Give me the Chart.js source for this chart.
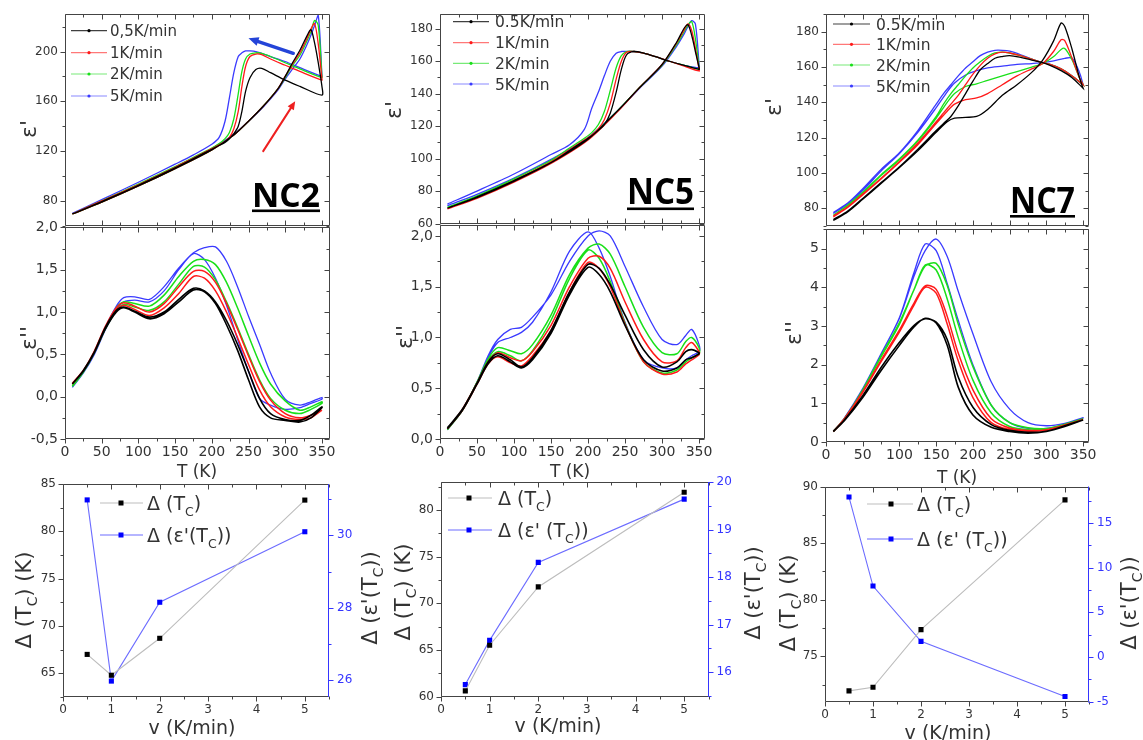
<!DOCTYPE html>
<html><head><meta charset="utf-8">
<script src="https://cdn.jsdelivr.net/npm/chart.js@4.4.0/dist/chart.umd.min.js"></script>
<style>
html,body{margin:0;padding:0;background:#fff;width:1143px;height:740px;overflow:hidden;position:relative;}
canvas{position:absolute;}
</style></head><body>
<canvas id="p1"></canvas><canvas id="p2"></canvas><canvas id="p3"></canvas>
<canvas id="p4"></canvas><canvas id="p5"></canvas><canvas id="p6"></canvas>
<canvas id="p7"></canvas><canvas id="p8"></canvas><canvas id="p9"></canvas>
<script>
// ================= DATA =================
const legendNC2 = ['0,5K/min', '1K/min', '2K/min', '5K/min'];
const legendNC57 = ['0.5K/min', '1K/min', '2K/min', '5K/min'];
const sampleNames = ['NC2', 'NC5', 'NC7'];

// --- NC2 eps' (heating branch, then cooling branch) ---
const nc2EpHeatT = [10, 50, 100, 150, 200, 230, 250, 270, 290, 300, 310, 320, 330, 335, 340, 345, 350];
const nc2EpHeat05 = [69.5, 79, 92, 106, 121, 133, 144, 156, 170, 180, 191, 201, 213, 217.5, 207, 191, 172];
const nc2EpHeat1 = [69.5, 79, 92, 106, 121, 133, 144, 156, 170, 180, 190, 199, 211, 218, 222.5, 206, 178];
const nc2EpHeat2 = [69.5, 79, 92, 106, 121, 133, 144, 156, 170, 179, 189, 197, 209, 216, 225, 221, 180];
const nc2EpHeat5 = [70, 79.5, 93, 107, 122, 133.5, 144, 155.5, 169, 178, 186, 194, 206, 213, 221, 229, 181];
const nc2EpCoolT = [350, 320, 300, 280, 268, 260, 252, 246, 241, 236, 230, 224, 218, 210, 200, 175, 150, 100, 50, 10];
const nc2EpCool05 = [165, 172, 177, 183, 186.5, 185.5, 179, 168, 152, 140, 134, 130, 127, 124.5, 121.5, 114, 106.5, 92.5, 79.5, 69.5];
const nc2EpCool1 = [177, 184, 189, 194, 197.5, 198, 196, 188, 172, 152, 138, 131, 128, 125, 122, 114.5, 107, 93, 80, 69.5];
const nc2EpCool2 = [179, 186, 191, 196, 198.5, 199, 198, 194, 184, 166, 146, 135, 130, 126, 122.5, 115, 107.5, 93.5, 80, 69.5];
const nc2EpCool5 = [180, 187, 192, 196, 198.5, 200, 200.5, 200.5, 199, 196, 183, 163, 144, 131, 125.5, 117, 109.5, 95, 81, 70];

// --- NC2 eps'' (branch A heating, branch B cooling, both listed with rising T) ---
const nc2EppT = [10, 25, 40, 55, 70, 80, 95, 115, 135, 155, 175, 190, 205, 220, 235, 250, 265, 280, 300, 320, 335, 350];
const nc2Epp05A = [0.15, 0.3, 0.52, 0.8, 1.0, 1.05, 1.0, 0.92, 0.98, 1.12, 1.26, 1.24, 1.1, 0.85, 0.55, 0.2, -0.12, -0.25, -0.28, -0.3, -0.25, -0.13];
const nc2Epp05B = [0.15, 0.31, 0.53, 0.82, 1.02, 1.06, 1.01, 0.94, 1.0, 1.15, 1.28, 1.25, 1.12, 0.9, 0.62, 0.3, -0.02, -0.2, -0.27, -0.28, -0.22, -0.12];
const nc2Epp1A = [0.16, 0.31, 0.53, 0.81, 1.02, 1.08, 1.03, 0.96, 1.05, 1.22, 1.42, 1.4, 1.25, 1.0, 0.7, 0.38, 0.08, -0.12, -0.24, -0.27, -0.25, -0.16];
const nc2Epp1B = [0.15, 0.31, 0.54, 0.83, 1.05, 1.11, 1.07, 1.0, 1.1, 1.3, 1.48, 1.48, 1.35, 1.1, 0.8, 0.48, 0.18, -0.04, -0.2, -0.25, -0.22, -0.16];
const nc2Epp2A = [0.13, 0.3, 0.52, 0.8, 1.02, 1.09, 1.06, 1.02, 1.12, 1.33, 1.54, 1.53, 1.38, 1.12, 0.82, 0.5, 0.2, -0.02, -0.16, -0.2, -0.15, -0.08];
const nc2Epp2B = [0.12, 0.29, 0.52, 0.81, 1.05, 1.12, 1.1, 1.07, 1.2, 1.42, 1.6, 1.62, 1.56, 1.35, 1.05, 0.72, 0.4, 0.15, -0.05, -0.16, -0.12, -0.06];
const nc2Epp5A = [0.11, 0.28, 0.5, 0.79, 1.03, 1.12, 1.14, 1.12, 1.25, 1.5, 1.69, 1.62, 1.4, 1.08, 0.68, 0.3, -0.02, -0.1, -0.15, -0.13, -0.08, -0.03];
const nc2Epp5B = [0.11, 0.29, 0.52, 0.82, 1.07, 1.17, 1.18, 1.15, 1.3, 1.52, 1.7, 1.76, 1.77, 1.6, 1.3, 0.95, 0.62, 0.28, -0.03, -0.1, -0.06, -0.01];

// --- NC5 eps' ---
const nc5EpHeatT = [10, 50, 100, 150, 200, 240, 270, 300, 320, 330, 335, 340, 345, 350];
const nc5EpHeat05 = [69.5, 76, 86, 97.5, 112, 129.5, 144, 158, 172, 180.5, 182.5, 176, 166, 156];
const nc5EpHeat1 = [69, 75.5, 85.5, 97, 111.5, 129, 144, 158, 171.5, 179.5, 183, 179, 168, 155];
const nc5EpHeat2 = [70, 76.5, 86.5, 98, 112.5, 129.5, 144, 157.5, 170.5, 178.5, 182.5, 184.5, 174, 156];
const nc5EpHeat5 = [71, 78, 88, 99.5, 113, 129.5, 143.5, 157, 169.5, 177, 181.5, 185, 183, 158];
const nc5EpCoolT = [350, 330, 310, 290, 275, 262, 252, 245, 238, 230, 222, 214, 205, 195, 175, 150, 100, 50, 10];
const nc5EpCool05 = [155, 157.5, 160, 163, 165, 166, 164, 155, 141, 128, 121, 117.5, 114, 111, 105, 97.5, 86.5, 76.5, 69.5];
const nc5EpCool1 = [154, 157, 160, 163, 165, 166, 165.5, 160, 149, 134, 124, 118.5, 114.5, 111.5, 105.5, 98, 86.5, 76, 69];
const nc5EpCool2 = [155, 157.5, 160, 163, 165, 166, 166, 163.5, 156, 142, 129, 121, 116, 112.5, 106.5, 99, 87.5, 77, 70];
const nc5EpCool5 = [156, 157.5, 160, 163, 165, 166, 166, 166, 165, 160, 151, 141, 131, 118, 108.5, 102.5, 90.5, 80, 72];

// --- NC5 eps'' ---
const nc5EppT = [10, 30, 50, 65, 78, 95, 110, 125, 150, 175, 200, 215, 230, 250, 275, 300, 320, 332, 340, 350];
const nc5Epp05A = [0.1, 0.28, 0.54, 0.74, 0.82, 0.76, 0.7, 0.78, 1.04, 1.42, 1.69, 1.62, 1.45, 1.12, 0.78, 0.67, 0.7, 0.78, 0.8, 0.84];
const nc5Epp05B = [0.11, 0.29, 0.55, 0.76, 0.84, 0.78, 0.71, 0.8, 1.07, 1.45, 1.72, 1.68, 1.52, 1.22, 0.88, 0.71, 0.76, 0.86, 0.88, 0.85];
const nc5Epp1A = [0.1, 0.28, 0.54, 0.74, 0.81, 0.75, 0.72, 0.82, 1.07, 1.45, 1.74, 1.68, 1.5, 1.13, 0.76, 0.64, 0.66, 0.74, 0.78, 0.83];
const nc5Epp1B = [0.1, 0.29, 0.55, 0.76, 0.85, 0.8, 0.77, 0.86, 1.12, 1.5, 1.78, 1.8, 1.68, 1.35, 0.98, 0.76, 0.77, 0.9, 0.95, 0.86];
const nc5Epp2A = [0.09, 0.28, 0.55, 0.77, 0.86, 0.82, 0.77, 0.87, 1.17, 1.58, 1.86, 1.78, 1.55, 1.14, 0.76, 0.65, 0.68, 0.76, 0.8, 0.84];
const nc5Epp2B = [0.09, 0.28, 0.56, 0.79, 0.9, 0.87, 0.84, 0.93, 1.22, 1.62, 1.88, 1.92, 1.82, 1.5, 1.1, 0.85, 0.84, 0.96, 1.0, 0.9];
const nc5Epp5A = [0.09, 0.28, 0.56, 0.8, 0.95, 1.0, 1.05, 1.15, 1.45, 1.85, 2.04, 1.88, 1.6, 1.15, 0.78, 0.7, 0.7, 0.78, 0.82, 0.86];
const nc5Epp5B = [0.09, 0.28, 0.56, 0.82, 0.98, 1.08, 1.1, 1.2, 1.42, 1.75, 2.0, 2.05, 2.0, 1.7, 1.3, 0.98, 0.93, 1.02, 1.08, 0.93];

// --- NC7 eps' ---
const nc7EpHeatT = [10, 30, 50, 75, 100, 125, 150, 165, 175, 190, 205, 220, 240, 260, 280, 295, 310, 320, 325, 335, 345, 350];
const nc7EpHeat05 = [73, 78, 85, 94, 103, 112.5, 123, 129, 131, 131.5, 132, 136, 144, 150, 157, 164, 175, 185, 183, 170, 154, 148];
const nc7EpHeat1 = [75, 80.5, 87.5, 96.5, 106, 116, 128, 135, 139, 141.5, 142.5, 145, 150, 155, 159, 162, 169, 175.5, 175, 165, 154, 150];
const nc7EpHeat2 = [76, 81.5, 88.5, 98.5, 107.5, 118, 131, 140, 145, 149, 150.5, 152.5, 155, 157.5, 160, 162, 166, 170, 170.5, 164, 154, 150];
const nc7EpHeat5 = [77, 82.5, 90, 101, 111, 123, 137, 146, 151, 155.5, 158, 159.5, 160.5, 161.5, 162, 162.5, 163.5, 164.5, 165, 165, 157, 150];
const nc7EpCoolT = [350, 335, 320, 305, 295, 280, 265, 250, 240, 230, 220, 210, 200, 190, 180, 170, 160, 150, 125, 100, 75, 50, 30, 10];
const nc7EpCool05 = [148, 154, 158, 161, 162.5, 164, 165.5, 166.5, 166, 165, 162, 158.5, 152, 145, 138, 132, 128, 124, 113.5, 103.5, 94.5, 85.5, 78.5, 73.5];
const nc7EpCool1 = [150, 155, 159, 161.5, 162.5, 164.5, 166.5, 168, 168.5, 167.5, 165, 161, 156, 150, 144, 139, 134, 129, 117, 106.5, 97, 88, 81, 75.5];
const nc7EpCool2 = [150, 155, 159, 161.5, 162.5, 164.5, 166.5, 168, 168.5, 168, 166, 163, 159.5, 155, 150, 145, 139, 132, 118.5, 108, 99, 89, 82, 76];
const nc7EpCool5 = [150, 155, 159, 161.5, 162.5, 164.5, 167, 169, 169.5, 169.5, 168.5, 166.5, 163, 159.5, 155, 150, 145, 139, 124, 111.5, 102, 91, 83, 77.5];

// --- NC7 eps'' ---
const nc7EppT = [10, 25, 50, 75, 100, 120, 135, 150, 165, 180, 200, 225, 250, 275, 300, 325, 350];
const nc7Epp05A = [0.27, 0.55, 1.15, 1.85, 2.5, 2.98, 3.2, 3.08, 2.5, 1.42, 0.7, 0.38, 0.27, 0.23, 0.27, 0.4, 0.57];
const nc7Epp05B = [0.28, 0.57, 1.2, 1.93, 2.58, 3.02, 3.19, 3.1, 2.65, 1.68, 0.9, 0.45, 0.3, 0.25, 0.28, 0.42, 0.57];
const nc7Epp1A = [0.27, 0.58, 1.28, 2.08, 2.85, 3.55, 4.0, 3.85, 3.05, 2.1, 1.15, 0.5, 0.32, 0.28, 0.3, 0.42, 0.58];
const nc7Epp1B = [0.27, 0.6, 1.3, 2.12, 2.9, 3.6, 4.04, 3.95, 3.25, 2.3, 1.35, 0.6, 0.36, 0.3, 0.32, 0.44, 0.58];
const nc7Epp2A = [0.27, 0.6, 1.33, 2.2, 3.05, 3.95, 4.58, 4.45, 3.7, 2.7, 1.6, 0.75, 0.4, 0.32, 0.33, 0.45, 0.6];
const nc7Epp2B = [0.27, 0.6, 1.35, 2.23, 3.09, 3.95, 4.55, 4.62, 4.05, 3.05, 1.95, 0.95, 0.5, 0.37, 0.35, 0.46, 0.6];
const nc7Epp5A = [0.27, 0.62, 1.38, 2.28, 3.22, 4.4, 5.12, 4.95, 4.1, 3.15, 2.0, 0.95, 0.5, 0.35, 0.35, 0.45, 0.62];
const nc7Epp5B = [0.27, 0.62, 1.38, 2.28, 3.2, 4.3, 4.95, 5.25, 4.8, 3.9, 2.8, 1.55, 0.85, 0.5, 0.42, 0.48, 0.63];

// --- bottom row: hysteresis widths vs rate ---
const rates = [0.5, 1, 2, 5];
const nc2DeltaTc = [67.0, 64.8, 68.7, 83.3];
const nc2DeltaEps = [30.98, 25.97, 28.15, 30.1];
const nc5DeltaTc = [60.6, 65.5, 71.75, 81.9];
const nc5DeltaEps = [15.74, 16.67, 18.31, 19.64];
const nc7DeltaTc = [71.94, 72.26, 77.35, 88.82];
const nc7DeltaEps = [17.92, 7.94, 1.74, -4.44];

// --- tick values / labels ---
const tTicks = [0, 50, 100, 150, 200, 250, 300, 350];
const vTicks = [0, 1, 2, 3, 4, 5];
const nc2EpTicks = [80, 120, 160, 200];
const nc2EppTicks = [-0.5, 0, 0.5, 1, 1.5, 2];
const nc2EppLabels = ['-0,5', '0,0', '0,5', '1,0', '1,5', '2,0'];
const nc2DTcTicks = [65, 70, 75, 80, 85];
const nc2DEpsTicks = [26, 28, 30];
const nc5EpTicks = [60, 80, 100, 120, 140, 160, 180];
const nc5EppTicks = [0, 0.5, 1, 1.5, 2];
const nc5EppLabels = ['0,0', '0,5', '1,0', '1,5', '2,0'];
const nc5DTcTicks = [60, 65, 70, 75, 80];
const nc5DEpsTicks = [16, 17, 18, 19, 20];
const nc7EpTicks = [80, 100, 120, 140, 160, 180];
const nc7EppTicks = [0, 1, 2, 3, 4, 5];
const nc7DTcTicks = [75, 80, 85, 90];
const nc7DEpsTicks = [-5, 0, 5, 10, 15];

// ================= STYLE / HELPERS =================
const FONT = "'DejaVu Sans', 'Liberation Sans', sans-serif";
const COLORS = ['#000000', '#ff1a1a', '#19e019', '#3a3aff'];
const FADED = ['rgba(0,0,0,0.75)', 'rgba(255,30,30,0.6)', 'rgba(30,220,30,0.6)', 'rgba(60,60,255,0.6)'];
const TXT = '#333333';
const AXIS = '#444444';
const BLUE_AX = '#3535ff';

function loopPts(hT, hV, cT, cV) {
  const pts = [];
  hT.forEach((t, i) => pts.push({x: t, y: hV[i]}));
  cT.forEach((t, i) => pts.push({x: t, y: cV[i]}));
  return pts;
}
function eppPts(T, A, B) { return loopPts(T, A, T.slice().reverse(), B.slice().reverse()); }
function lineDs(pts, i, w) {
  return {data: pts, showLine: true, borderColor: COLORS[i], backgroundColor: COLORS[i],
          borderWidth: w, pointRadius: 0, tension: 0.3, fill: false};
}
function dDs(vals, axis, lineColor, markColor) {
  return {data: rates.map((x, i) => ({x: x, y: vals[i]})), yAxisID: axis, showLine: true,
          borderColor: lineColor, borderWidth: 1.1, pointStyle: 'rect', pointRadius: 3.6,
          pointBackgroundColor: markColor, pointBorderColor: markColor, pointBorderWidth: 0, tension: 0};
}
function minorVals(major, min, max) {
  const out = [];
  if (major.length < 2) return out;
  const st = major[1] - major[0];
  let v = major[0] - st / 2;
  while (v - st >= min) v -= st;
  for (; v <= max + 1e-9; v += st) if (v >= min - 1e-9) out.push(v);
  return out;
}
function rich(ctx, parts, x, y, size, color, opt) {
  opt = opt || {};
  ctx.save();
  ctx.translate(x, y);
  if (opt.rot) ctx.rotate(opt.rot);
  ctx.fillStyle = color; ctx.textBaseline = 'alphabetic'; ctx.textAlign = 'left';
  const sub = size * 0.66;
  let w = 0;
  parts.forEach(p => { ctx.font = (p[1] ? sub : size) + 'px ' + FONT; w += ctx.measureText(p[0]).width; });
  let cx = opt.align === 'left' ? 0 : -w / 2;
  const base = size * 0.36;
  parts.forEach(p => {
    ctx.font = (p[1] ? sub : size) + 'px ' + FONT;
    ctx.fillText(p[0], cx, base + (p[1] ? size * 0.3 : 0));
    cx += ctx.measureText(p[0]).width;
  });
  ctx.restore();
}
function frameDraw(chart, xOut, y2) {
  const ctx = chart.ctx, a = chart.chartArea, X = chart.scales.x, Y = chart.scales.y, Y2 = chart.scales.y2;
  const L = Math.round(a.left) + 0.5, R = Math.round(a.right) - 0.5, T = Math.round(a.top) + 0.5, B = Math.round(a.bottom) - 0.5;
  const px = (s, v) => Math.round(s.getPixelForValue(v)) + 0.5;
  ctx.save();
  ctx.lineWidth = 1; ctx.strokeStyle = AXIS;
  ctx.beginPath();
  ctx.moveTo(L, T); ctx.lineTo(R, T); ctx.lineTo(R, B); ctx.lineTo(L, B); ctx.closePath();
  const seg = (x1, y1, x2, y2_) => { ctx.moveTo(x1, y1); ctx.lineTo(x2, y2_); };
  const d = xOut ? 1 : -1;
  const xm = X.ticks.map(t => t.value);
  xm.forEach(v => { const p = px(X, v); seg(p, B, p, B + d * 5); seg(p, T, p, T + 5); });
  minorVals(xm, X.min, X.max).forEach(v => { const p = px(X, v); seg(p, B, p, B + d * 3); seg(p, T, p, T + 3); });
  const ym = Y.ticks.map(t => t.value);
  ym.forEach(v => { const p = px(Y, v); seg(L, p, L - 5, p); if (!Y2) seg(R, p, R - 5, p); });
  minorVals(ym, Y.min, Y.max).forEach(v => { const p = px(Y, v); seg(L, p, L - 3, p); if (!Y2) seg(R, p, R - 3, p); });
  ctx.stroke();
  if (Y2) {
    ctx.strokeStyle = BLUE_AX; ctx.beginPath();
    seg(R, a.top, R, a.bottom);
    const y2m = Y2.ticks.map(t => t.value);
    y2m.forEach(v => { const p = px(Y2, v); seg(R, p, R + 5, p); });
    minorVals(y2m, Y2.min, Y2.max).forEach(v => { const p = px(Y2, v); seg(R, p, R + 3, p); });
    ctx.stroke();
  }
  ctx.restore();
}
function build(id, box, area, o) {
  const cv = document.getElementById(id);
  cv.width = box.w; cv.height = box.h;
  cv.style.left = box.x + 'px'; cv.style.top = box.y + 'px';
  const hasY2 = !!o.y2;
  const tickFont = {family: FONT, size: o.font};
  const scales = {
    x: {type: 'linear', min: o.x.min, max: o.x.max, bounds: 'data',
        afterBuildTicks: s => { s.ticks = o.x.ticks.map(v => ({value: v})); },
        afterFit: s => { s.height = box.y + box.h - area.b; },
        grid: {display: false, drawTicks: false}, border: {display: false},
        ticks: {display: o.x.show, autoSkip: false, maxRotation: 0, padding: o.x.pad, color: TXT, font: tickFont,
                callback: (v) => String(v)}},
    y: {type: 'linear', position: 'left', min: o.y.min, max: o.y.max, bounds: 'data',
        afterBuildTicks: s => { s.ticks = o.y.ticks.map(v => ({value: v})); },
        afterFit: s => { s.width = area.l - box.x; },
        grid: {display: false, drawTicks: false}, border: {display: false},
        ticks: {autoSkip: false, padding: 7, color: TXT, font: tickFont,
                callback: (v, i) => o.y.labels ? o.y.labels[i] : String(v)}}
  };
  if (hasY2) {
    scales.y2 = {type: 'linear', position: 'right', min: o.y2.min, max: o.y2.max, bounds: 'data',
        afterBuildTicks: s => { s.ticks = o.y2.ticks.map(v => ({value: v})); },
        afterFit: s => { s.width = box.x + box.w - area.r; },
        grid: {display: false, drawTicks: false}, border: {display: false},
        ticks: {autoSkip: false, padding: 8, color: BLUE_AX, font: tickFont, callback: v => String(v)}};
  }
  return new Chart(cv, {
    type: 'scatter',
    data: {datasets: o.datasets},
    options: {
      responsive: false, animation: false, devicePixelRatio: 1, events: [],
      layout: {autoPadding: false, padding: {left: 0, bottom: 0, top: area.t - box.y, right: hasY2 ? 0 : (box.x + box.w - area.r)}},
      plugins: {legend: {display: false}, tooltip: {enabled: false}},
      scales: scales
    },
    plugins: [
      {id: 'frame_' + id, afterDatasetsDraw(ch) { frameDraw(ch, o.xOut, hasY2); }},
      {id: 'ann_' + id, afterDraw(ch) { if (o.annot) o.annot(ch.ctx, ch, box); }}
    ]
  });
}
function epsLegend(ctx, box, names, x1, x2, tx, rows, size) {
  names.forEach((n, i) => {
    const y = rows[i] - box.y;
    ctx.save();
    ctx.strokeStyle = FADED[i]; ctx.lineWidth = 1.2;
    ctx.beginPath(); ctx.moveTo(x1 - box.x, y); ctx.lineTo(x2 - box.x, y); ctx.stroke();
    ctx.fillStyle = COLORS[i];
    ctx.beginPath(); ctx.arc((x1 + x2) / 2 - box.x, y, 1.6, 0, Math.PI * 2); ctx.fill();
    ctx.restore();
    rich(ctx, [[n, 0]], tx - box.x, y, size, TXT, {align: 'left'});
  });
}
function dLegend(ctx, box, rows, x1, x2, mx, tx, size) {
  rows.forEach(r => {
    const y = r.y - box.y;
    ctx.save();
    ctx.strokeStyle = r.line; ctx.lineWidth = 1.1;
    ctx.beginPath(); ctx.moveTo(x1 - box.x, y); ctx.lineTo(x2 - box.x, y); ctx.stroke();
    ctx.fillStyle = r.mark; ctx.fillRect(mx - box.x - 2.5, y - 2.5, 5, 5);
    ctx.restore();
    rich(ctx, r.parts, tx - box.x, y, size, TXT, {align: 'left'});
  });
}
function ncLabel(ctx, box, s, x, base, w, size, ul) {
  ctx.save();
  ctx.font = 'bold ' + size + "px 'Open Sans', " + FONT;
  ctx.fillStyle = '#000'; ctx.textBaseline = 'alphabetic'; ctx.textAlign = 'left';
  ctx.fillText(s, x - box.x, base - box.y, w);
  ctx.fillRect(x - box.x, ul - box.y, w, 2.6);
  ctx.restore();
}
function arrowData(ctx, ch, t1, v1, t2, v2, color, w, head) {
  const X = ch.scales.x, Y = ch.scales.y;
  const x1 = X.getPixelForValue(t1), y1 = Y.getPixelForValue(v1), x2 = X.getPixelForValue(t2), y2 = Y.getPixelForValue(v2);
  const ang = Math.atan2(y2 - y1, x2 - x1);
  ctx.save();
  ctx.strokeStyle = color; ctx.fillStyle = color; ctx.lineWidth = w; ctx.lineCap = 'round';
  ctx.beginPath(); ctx.moveTo(x1, y1);
  ctx.lineTo(x2 - Math.cos(ang) * head * 0.8, y2 - Math.sin(ang) * head * 0.8); ctx.stroke();
  ctx.beginPath(); ctx.moveTo(x2, y2);
  ctx.lineTo(x2 - head * Math.cos(ang - 0.42), y2 - head * Math.sin(ang - 0.42));
  ctx.lineTo(x2 - head * Math.cos(ang + 0.42), y2 - head * Math.sin(ang + 0.42));
  ctx.closePath(); ctx.fill();
  ctx.restore();
}
const ROT = -Math.PI / 2;
const epsP = [["ε'", 0]];
const epsPP = [["ε''", 0]];
const tTitle = [['T (K)', 0]];
const vTitle = [['v (K/min)', 0]];
const dTcTitle = [['Δ (T', 0], ['C', 1], [') (K)', 0]];
const dEpsTitle = [["Δ (ε'(T", 0], ['C', 1], ['))', 0]];
const legTc = [['Δ (T', 0], ['C', 1], [')', 0]];
const legEpsA = [["Δ (ε'(T", 0], ['C', 1], ['))', 0]];
const legEpsB = [["Δ (ε' (T", 0], ['C', 1], ['))', 0]];

// ================= PANELS =================
// ---- column NC2 ----
build('p1', {x: 0, y: 0, w: 380, h: 240}, {l: 65, t: 14, r: 330, b: 227}, {
  font: 12, xOut: false,
  x: {min: 0, max: 361, ticks: tTicks, show: false, pad: 5},
  y: {min: 60, max: 230, ticks: nc2EpTicks},
  datasets: [
    lineDs(loopPts(nc2EpHeatT, nc2EpHeat05, nc2EpCoolT, nc2EpCool05), 0, 1.3),
    lineDs(loopPts(nc2EpHeatT, nc2EpHeat1, nc2EpCoolT, nc2EpCool1), 1, 1.3),
    lineDs(loopPts(nc2EpHeatT, nc2EpHeat2, nc2EpCoolT, nc2EpCool2), 2, 1.3),
    lineDs(loopPts(nc2EpHeatT, nc2EpHeat5, nc2EpCoolT, nc2EpCool5), 3, 1.3)
  ],
  annot: (ctx, ch, box) => {
    epsLegend(ctx, box, legendNC2, 71, 107, 110, [30.7, 52.7, 74, 96], 15);
    rich(ctx, epsP, 28 - box.x, 129 - box.y, 22, TXT, {rot: ROT});
    ncLabel(ctx, box, sampleNames[0], 252, 207, 68, 34, 209.5);
    arrowData(ctx, ch, 311, 198.6, 250, 210.6, '#2444d8', 3.4, 11);
    arrowData(ctx, ch, 270, 120, 313.6, 160, '#ee2020', 2, 9);
  }
});
build('p2', {x: 0, y: 212, w: 380, h: 268}, {l: 65, t: 227, r: 330, b: 439}, {
  font: 14, xOut: true,
  x: {min: 0, max: 361, ticks: tTicks, show: true, pad: 5},
  y: {min: -0.5, max: 2.0, ticks: nc2EppTicks, labels: nc2EppLabels},
  datasets: [
    lineDs(eppPts(nc2EppT, nc2Epp05A, nc2Epp05B), 0, 1.6),
    lineDs(eppPts(nc2EppT, nc2Epp1A, nc2Epp1B), 1, 1.5),
    lineDs(eppPts(nc2EppT, nc2Epp2A, nc2Epp2B), 2, 1.5),
    lineDs(eppPts(nc2EppT, nc2Epp5A, nc2Epp5B), 3, 1.3)
  ],
  annot: (ctx, ch, box) => {
    rich(ctx, epsPP, 28 - box.x, 338 - box.y, 22, TXT, {rot: ROT});
    rich(ctx, tTitle, 197 - box.x, 471 - box.y, 17, TXT);
  }
});
build('p3', {x: 0, y: 468, w: 385, h: 272}, {l: 63, t: 484, r: 329, b: 697}, {
  font: 12, xOut: true,
  x: {min: 0, max: 5.5, ticks: vTicks, show: true, pad: 6},
  y: {min: 62.5, max: 85, ticks: nc2DTcTicks},
  y2: {min: 25.53, max: 31.42, ticks: nc2DEpsTicks},
  datasets: [
    dDs(nc2DeltaTc, 'y', '#bdbdbd', '#000000'),
    dDs(nc2DeltaEps, 'y2', '#6c6cff', '#0000ff')
  ],
  annot: (ctx, ch, box) => {
    dLegend(ctx, box, [{y: 503, line: '#bdbdbd', mark: '#000', parts: legTc}, {y: 535, line: '#6c6cff', mark: '#0000ff', parts: legEpsA}], 100, 143, 121, 147, 19);
    rich(ctx, dTcTitle, 23 - box.x, 600 - box.y, 21, TXT, {rot: ROT});
    rich(ctx, dEpsTitle, 369 - box.x, 598 - box.y, 21, TXT, {rot: ROT});
    rich(ctx, vTitle, 192 - box.x, 727 - box.y, 19, TXT);
  }
});
// ---- column NC5 ----
build('p4', {x: 370, y: 0, w: 380, h: 240}, {l: 440, t: 10, r: 705, b: 223.5}, {
  font: 12, xOut: false,
  x: {min: 0, max: 358, ticks: tTicks, show: false, pad: 5},
  y: {min: 60, max: 189, ticks: nc5EpTicks},
  datasets: [
    lineDs(loopPts(nc5EpHeatT, nc5EpHeat05, nc5EpCoolT, nc5EpCool05), 0, 1.3),
    lineDs(loopPts(nc5EpHeatT, nc5EpHeat1, nc5EpCoolT, nc5EpCool1), 1, 1.3),
    lineDs(loopPts(nc5EpHeatT, nc5EpHeat2, nc5EpCoolT, nc5EpCool2), 2, 1.3),
    lineDs(loopPts(nc5EpHeatT, nc5EpHeat5, nc5EpCoolT, nc5EpCool5), 3, 1.3)
  ],
  annot: (ctx, ch, box) => {
    epsLegend(ctx, box, legendNC57, 453, 489, 495, [21.7, 42.7, 63.3, 84], 15.5);
    rich(ctx, epsP, 393 - box.x, 110 - box.y, 22, TXT, {rot: ROT});
    ncLabel(ctx, box, sampleNames[1], 627, 204, 67, 36, 207.5);
  }
});
build('p5', {x: 370, y: 210, w: 380, h: 270}, {l: 440, t: 223.5, r: 705, b: 439}, {
  font: 14, xOut: true,
  x: {min: 0, max: 358, ticks: tTicks, show: true, pad: 5},
  y: {min: 0, max: 2.104, ticks: nc5EppTicks, labels: nc5EppLabels},
  datasets: [
    lineDs(eppPts(nc5EppT, nc5Epp05A, nc5Epp05B), 0, 1.6),
    lineDs(eppPts(nc5EppT, nc5Epp1A, nc5Epp1B), 1, 1.5),
    lineDs(eppPts(nc5EppT, nc5Epp2A, nc5Epp2B), 2, 1.5),
    lineDs(eppPts(nc5EppT, nc5Epp5A, nc5Epp5B), 3, 1.3)
  ],
  annot: (ctx, ch, box) => {
    rich(ctx, epsPP, 404 - box.x, 337 - box.y, 22, TXT, {rot: ROT});
    rich(ctx, tTitle, 570 - box.x, 471 - box.y, 17, TXT);
  }
});
build('p6', {x: 370, y: 466, w: 400, h: 274}, {l: 441, t: 482, r: 708.5, b: 696.5}, {
  font: 12, xOut: true,
  x: {min: 0, max: 5.5, ticks: vTicks, show: true, pad: 6},
  y: {min: 60, max: 83, ticks: nc5DTcTicks},
  y2: {min: 15.49, max: 20, ticks: nc5DEpsTicks},
  datasets: [
    dDs(nc5DeltaTc, 'y', '#bdbdbd', '#000000'),
    dDs(nc5DeltaEps, 'y2', '#6c6cff', '#0000ff')
  ],
  annot: (ctx, ch, box) => {
    dLegend(ctx, box, [{y: 498, line: '#bdbdbd', mark: '#000', parts: legTc}, {y: 530, line: '#6c6cff', mark: '#0000ff', parts: legEpsB}], 448, 492, 469, 498, 19);
    rich(ctx, dTcTitle, 402 - box.x, 592 - box.y, 21, TXT, {rot: ROT});
    rich(ctx, dEpsTitle, 752 - box.x, 593 - box.y, 21, TXT, {rot: ROT});
    rich(ctx, vTitle, 558 - box.x, 725 - box.y, 19, TXT);
  }
});
// ---- column NC7 ----
build('p7', {x: 750, y: 0, w: 393, h: 240}, {l: 826, t: 13.5, r: 1089, b: 227.5}, {
  font: 12, xOut: false,
  x: {min: 0, max: 358, ticks: tTicks, show: false, pad: 5},
  y: {min: 70, max: 190, ticks: nc7EpTicks},
  datasets: [
    lineDs(loopPts(nc7EpHeatT, nc7EpHeat05, nc7EpCoolT, nc7EpCool05), 0, 1.3),
    lineDs(loopPts(nc7EpHeatT, nc7EpHeat1, nc7EpCoolT, nc7EpCool1), 1, 1.3),
    lineDs(loopPts(nc7EpHeatT, nc7EpHeat2, nc7EpCoolT, nc7EpCool2), 2, 1.3),
    lineDs(loopPts(nc7EpHeatT, nc7EpHeat5, nc7EpCoolT, nc7EpCool5), 3, 1.3)
  ],
  annot: (ctx, ch, box) => {
    epsLegend(ctx, box, legendNC57, 833, 870, 876, [24, 44.3, 65, 86], 15.5);
    rich(ctx, epsP, 773 - box.x, 107 - box.y, 22, TXT, {rot: ROT});
    ncLabel(ctx, box, sampleNames[2], 1010, 213, 65, 35, 215);
  }
});
build('p8', {x: 750, y: 214, w: 393, h: 274}, {l: 826, t: 227.5, r: 1089, b: 442}, {
  font: 14, xOut: true,
  x: {min: 0, max: 358, ticks: tTicks, show: true, pad: 5},
  y: {min: 0, max: 5.5, ticks: nc7EppTicks},
  datasets: [
    lineDs(eppPts(nc7EppT, nc7Epp05A, nc7Epp05B), 0, 1.6),
    lineDs(eppPts(nc7EppT, nc7Epp1A, nc7Epp1B), 1, 1.5),
    lineDs(eppPts(nc7EppT, nc7Epp2A, nc7Epp2B), 2, 1.5),
    lineDs(eppPts(nc7EppT, nc7Epp5A, nc7Epp5B), 3, 1.3)
  ],
  annot: (ctx, ch, box) => {
    rich(ctx, epsPP, 793 - box.x, 333 - box.y, 22, TXT, {rot: ROT});
    rich(ctx, tTitle, 957 - box.x, 477 - box.y, 17, TXT);
  }
});
build('p9', {x: 750, y: 470, w: 393, h: 270}, {l: 825, t: 486.5, r: 1089, b: 701.5}, {
  font: 12, xOut: true,
  x: {min: 0, max: 5.5, ticks: vTicks, show: true, pad: 6},
  y: {min: 71, max: 90, ticks: nc7DTcTicks},
  y2: {min: -5, max: 19.1, ticks: nc7DEpsTicks},
  datasets: [
    dDs(nc7DeltaTc, 'y', '#bdbdbd', '#000000'),
    dDs(nc7DeltaEps, 'y2', '#6c6cff', '#0000ff')
  ],
  annot: (ctx, ch, box) => {
    dLegend(ctx, box, [{y: 504, line: '#bdbdbd', mark: '#000', parts: legTc}, {y: 539, line: '#6c6cff', mark: '#0000ff', parts: legEpsB}], 867, 913, 891, 917, 19);
    rich(ctx, dTcTitle, 787 - box.x, 603 - box.y, 21, TXT, {rot: ROT});
    rich(ctx, dEpsTitle, 1128 - box.x, 603 - box.y, 21, TXT, {rot: ROT});
    rich(ctx, vTitle, 948 - box.x, 732 - box.y, 19, TXT);
  }
});
</script>
</body></html>
